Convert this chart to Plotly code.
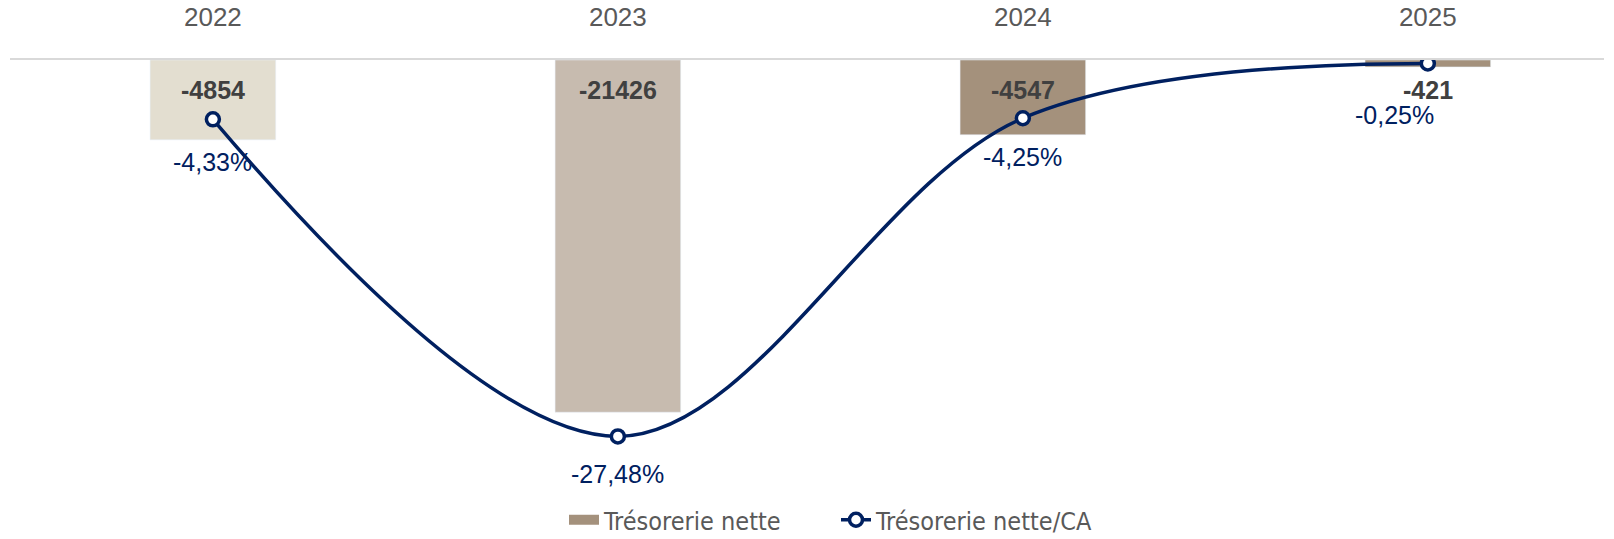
import plotly.graph_objects as go

years = ["2022", "2023", "2024", "2025"]
tresorerie = [-4854, -21426, -4547, -421]
ratio = [-4.33, -27.48, -4.25, -0.25]
ratio_labels = ["-4,33%", "-27,48%", "-4,25%", "-0,25%"]
bar_colors = ["#E3DED0", "#C7BBAF", "#A4917C", "#A4917C"]

NAVY = "#002060"
W, H = 1614, 539
mt, mb, ml, mr = 60, 59, 10, 10
plot_h = H - mt - mb
FONT = "Liberation Sans, Arial, sans-serif"

fig = go.Figure()
fig.add_trace(go.Bar(
    x=years, y=tresorerie, name="Trésorerie nette",
    marker=dict(color=bar_colors), width=0.31,
    showlegend=False, hoverinfo="skip",
))
# legend proxy for bars (wide swatch)
fig.add_trace(go.Scatter(
    x=[None], y=[None], name="Trésorerie nette", mode="lines",
    line=dict(color="#A4917C", width=16), showlegend=True,
))
fig.add_trace(go.Scatter(
    x=years, y=ratio, name="Trésorerie nette/CA", yaxis="y2",
    mode="lines+markers",
    line=dict(color=NAVY, width=3.5, shape="spline", smoothing=1.0),
    marker=dict(size=13, color="white", line=dict(color=NAVY, width=3.5)),
    hoverinfo="skip",
))

ann = []
for i, v in enumerate(tresorerie):
    ann.append(dict(x=i, y=0, xref="x", yref="y", text=f"<b>{v}</b>",
                    showarrow=False, yshift=-30,
                    font=dict(family=FONT, size=25, color="#404040")))
shifts = [(0, -43), (0, -38), (0, -39), (-33, -52)]
for i, (v, t, (dx, dy)) in enumerate(zip(ratio, ratio_labels, shifts)):
    ann.append(dict(x=i, y=v, xref="x", yref="y2", text=t, showarrow=False,
                    xshift=dx, yshift=dy,
                    font=dict(family=FONT, size=25, color=NAVY)))

px_per_k = 352.2 / 21.426
px_per_pct = 317.1 / 23.15

hidden = dict(showgrid=False, zeroline=False, showline=False,
              showticklabels=False, ticks="", automargin=False)

fig.update_layout(
    width=W, height=H,
    margin=dict(l=ml, r=mr, t=mt, b=mb, autoexpand=False),
    plot_bgcolor="white", paper_bgcolor="white",
    barmode="overlay",
    annotations=ann,
    xaxis=dict(side="top", type="category", range=[-0.501, 3.435],
               showline=True, linecolor="#D9D9D9", linewidth=2,
               showgrid=False, zeroline=False, ticks="",
               ticklabelstandoff=22, automargin=False,
               tickfont=dict(family=FONT, size=26, color="#595959")),
    yaxis=dict(range=[-plot_h / px_per_k * 1000, 0], **hidden),
    yaxis2=dict(range=[-plot_h / px_per_pct, 0], overlaying="y", side="right",
                **hidden),
    legend=dict(orientation="h", x=(564 - ml) / (W - ml - mr), xanchor="left",
                yref="container", y=1 - 520 / H, yanchor="middle",
                bgcolor="rgba(0,0,0,0)",
                font=dict(family="Liberation Sans Narrow, DejaVu Sans Condensed, Roboto Condensed, Arial Narrow, Roboto",
                          size=25, color="#595959"),
                entrywidth=227, traceorder="normal"),
)

fig.write_html("out.html", config={"displayModeBar": False},
               post_script="document.body.style.margin='0';document.body.style.overflow='hidden';")
